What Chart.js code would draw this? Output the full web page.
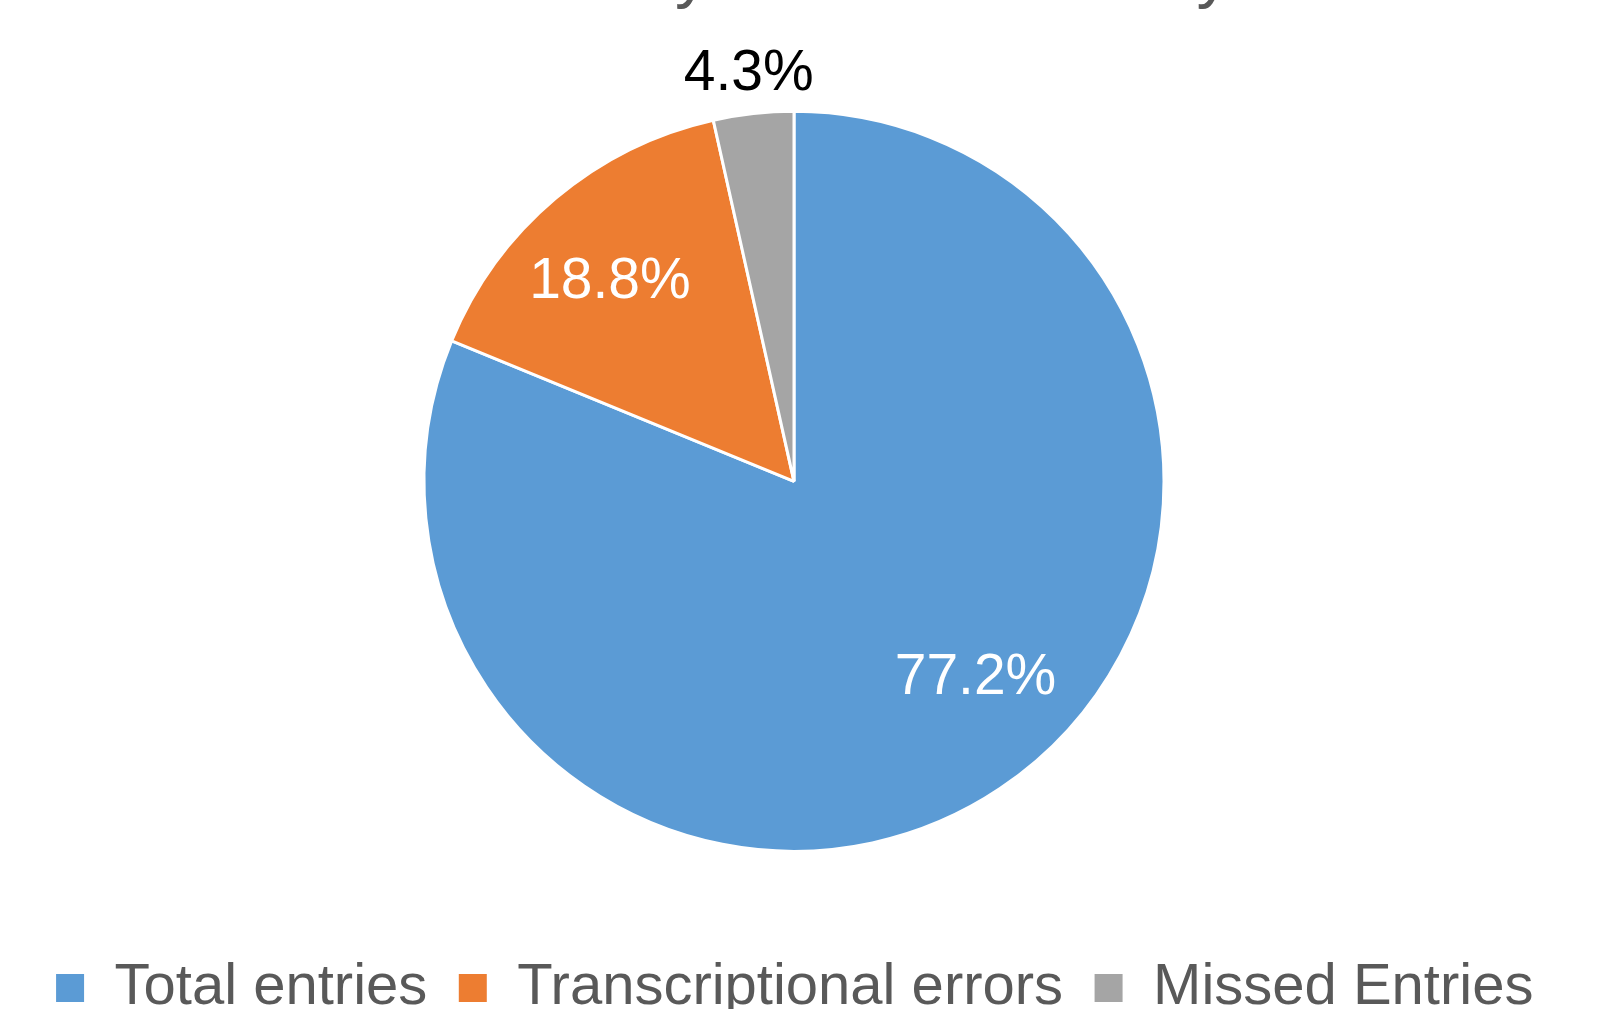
<!DOCTYPE html>
<html>
<head>
<meta charset="utf-8">
<title>Manual Inventory Entries February 2015</title>
<script src="https://cdn.jsdelivr.net/npm/chart.js@4/dist/chart.umd.min.js"></script>
<style>
    html, body {
        margin: 0;
        padding: 0;
        background: #ffffff;
        overflow: hidden;
    }
    #chart-wrap {
        position: relative;
        width: 1609px;
        height: 1092px;
        margin-top: -65px; /* title sits mostly above the visible area, as in the original */
    }
</style>
</head>
<body>
<div id="chart-wrap">
    <canvas id="entriesChart"></canvas>
</div>
<script>
// Data
const categories = ['Total entries', 'Transcriptional errors', 'Missed Entries'];
const sliceShares = [81.2, 15.3, 3.5];
const sliceLabels = ['77.2%', '18.8%', '4.3%'];
const sliceColors = ['#5B9BD5', '#ED7D31', '#A5A5A5'];
const chartTitle = 'Manual Inventory Entries February 2015';

const FONT = '"Liberation Sans", Arial, sans-serif';

// Draws the percentage label of each slice
const sliceLabelPlugin = {
    id: 'sliceLabels',
    afterDatasetsDraw(chart, args, opts) {
        const ctx = chart.ctx;
        const meta = chart.getDatasetMeta(0);
        ctx.save();
        ctx.font = opts.size + 'px ' + FONT;
        ctx.textAlign = 'center';
        ctx.textBaseline = 'middle';
        meta.data.forEach(function(arc, i) {
            const p = arc.getProps(['x', 'y', 'startAngle', 'endAngle', 'outerRadius'], true);
            const mid = (p.startAngle + p.endAngle) / 2 + opts.nudge[i] * Math.PI / 180;
            const r = p.outerRadius * opts.radial[i];
            ctx.fillStyle = opts.colors[i];
            ctx.fillText(sliceLabels[i], p.x + Math.cos(mid) * r, p.y + Math.sin(mid) * r + opts.yShift);
        });
        ctx.restore();
    }
};

const ctx = document.getElementById('entriesChart');

new Chart(ctx, {
    type: 'pie',
    data: {
        labels: categories,
        datasets: [{
            data: sliceShares,
            backgroundColor: sliceColors,
            borderColor: '#ffffff',
            borderWidth: 3,
            radius: 370
        }]
    },
    options: {
        responsive: true,
        maintainAspectRatio: false,
        animation: false,
        layout: {
            padding: { top: 0, right: 21, bottom: 0, left: 0 }
        },
        plugins: {
            title: {
                display: true,
                text: chartTitle,
                color: '#595959',
                font: { family: FONT, size: 68, weight: 'normal' },
                padding: { top: 0, bottom: 17 }
            },
            legend: {
                position: 'bottom',
                labels: {
                    color: '#595959',
                    font: { family: FONT, size: 58 },
                    boxWidth: 31,
                    boxHeight: 31,
                    padding: 30
                }
            },
            tooltip: { enabled: false },
            sliceLabels: {
                size: 57,
                colors: ['#ffffff', '#ffffff', '#000000'],
                radial: [0.716, 0.74, 1.117],
                nudge: [-9.4, -2.1, 0],
                yShift: 4
            }
        }
    },
    plugins: [sliceLabelPlugin]
});
</script>
</body>
</html>
